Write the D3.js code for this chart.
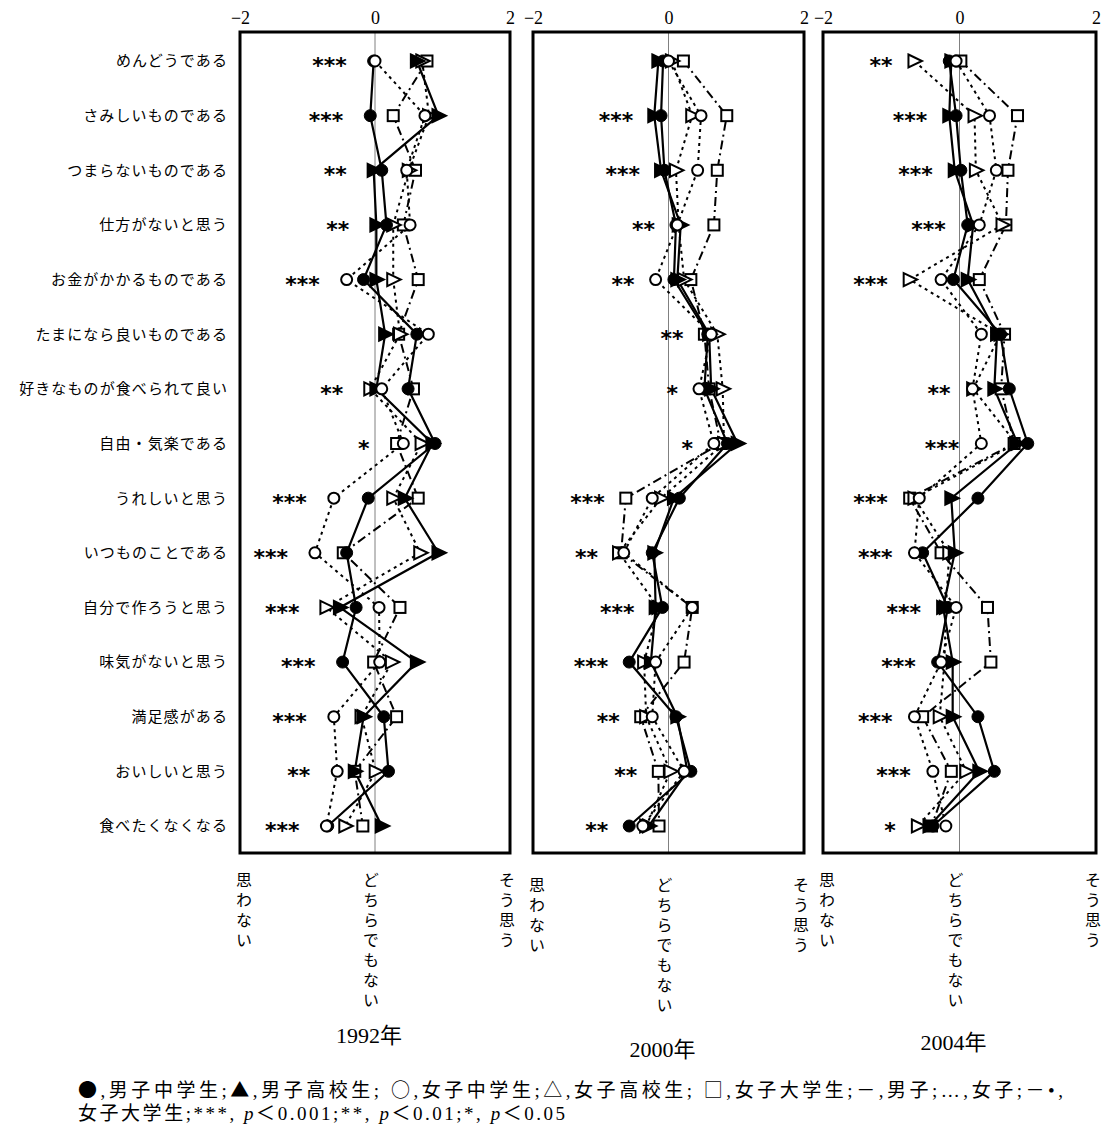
<!DOCTYPE html>
<html>
<head>
<meta charset="utf-8">
<script src="https://cdn.jsdelivr.net/npm/d3@7"></script>
<style>
  body { margin: 0; background: #fff; }
</style>
</head>
<body>
<div id="chart"></div>
<script>
// question items (rows, top to bottom)
const items = ["めんどうである", "さみしいものである", "つまらないものである", "仕方がないと思う",
  "お金がかかるものである", "たまになら良いものである", "好きなものが食べられて良い", "自由・気楽である",
  "うれしいと思う", "いつものことである", "自分で作ろうと思う", "味気がないと思う",
  "満足感がある", "おいしいと思う", "食べたくなくなる"];
const years = ["1992年", "2000年", "2004年"];
const tickValues = [-2, 0, 2];
const scaleWords = ["思わない", "どちらでもない", "そう思う"];

// 1992
const boysJH1992   = [-0.02, -0.07, 0.10, 0.17, -0.17, 0.62, 0.49, 0.89, -0.10, -0.42, -0.28, -0.48, 0.13, 0.20, -0.70];
const boysHS1992   = [0.62, 0.94, -0.02, 0.02, 0.02, 0.15, 0.02, 0.85, 0.44, 0.94, -0.52, 0.62, -0.17, -0.30, 0.10];
const girlsJH1992  = [0.00, 0.74, 0.47, 0.52, -0.42, 0.79, 0.10, 0.42, -0.61, -0.89, 0.06, 0.07, -0.61, -0.56, -0.72];
const girlsHS1992  = [0.70, 0.80, 0.50, 0.27, 0.27, 0.37, -0.07, 0.69, 0.27, 0.67, -0.72, 0.25, -0.20, 0.01, -0.44];
const girlsUni1992 = [0.77, 0.27, 0.60, 0.42, 0.64, 0.35, 0.57, 0.32, 0.64, -0.47, 0.37, -0.02, 0.32, -0.30, -0.18];
const stars1992 = ["***", "***", "**", "**", "***", "", "**", "*", "***", "***", "***", "***", "***", "**", "***"];

// 2000
const boysJH2000   = [-0.08, -0.11, -0.06, 0.11, 0.08, 0.58, 0.53, 0.87, 0.16, -0.24, -0.09, -0.58, 0.11, 0.33, -0.58];
const boysHS2000   = [-0.15, -0.21, -0.11, 0.18, 0.13, 0.60, 0.63, 1.02, 0.08, -0.21, -0.19, -0.26, 0.13, 0.28, -0.29];
const girlsJH2000  = [0.00, 0.48, 0.43, 0.13, -0.19, 0.63, 0.45, 0.67, -0.24, -0.66, 0.35, -0.19, -0.24, 0.23, -0.38];
const girlsHS2000  = [0.05, 0.35, 0.11, 0.15, 0.23, 0.72, 0.80, 0.82, -0.11, -0.73, -0.15, -0.36, -0.33, 0.03, -0.33];
const girlsUni2000 = [0.22, 0.86, 0.72, 0.67, 0.33, 0.53, 0.60, 0.77, -0.63, -0.70, 0.35, 0.23, -0.41, -0.15, -0.14];
const stars2000 = ["", "***", "***", "**", "**", "**", "*", "*", "***", "**", "***", "***", "**", "**", "**"];

// 2004
const boysJH2004   = [-0.15, -0.05, 0.02, 0.12, -0.09, 0.60, 0.73, 1.00, 0.27, -0.54, -0.17, -0.32, 0.27, 0.51, -0.39];
const boysHS2004   = [-0.12, -0.15, -0.07, 0.20, 0.12, 0.55, 0.51, 0.85, -0.12, -0.07, -0.24, -0.10, -0.10, 0.29, -0.44];
const girlsJH2004  = [-0.05, 0.44, 0.54, 0.29, -0.27, 0.32, 0.19, 0.32, -0.59, -0.66, -0.05, -0.27, -0.66, -0.39, -0.20];
const girlsHS2004  = [-0.66, 0.22, 0.24, 0.63, -0.73, 0.60, 0.20, 0.83, -0.66, -0.15, -0.20, -0.22, -0.29, 0.10, -0.61];
const girlsUni2004 = [0.02, 0.85, 0.71, 0.68, 0.29, 0.66, 0.61, 0.80, -0.73, -0.27, 0.41, 0.46, -0.54, -0.12, -0.41];
const stars2004 = ["**", "***", "***", "***", "***", "", "**", "***", "***", "***", "***", "***", "***", "***", "*"];

const width = 1110, height = 1128;
const boxTop = 32, boxBottom = 853;

const svg = d3.select("#chart")
  .append("svg")
    .attr("width", width)
    .attr("height", height);

const y = d3.scalePoint()
  .domain(items)
  .range([61, 826]);

// row labels on the left
svg.append("g")
  .selectAll("text")
  .data(items)
  .join("text")
    .attr("x", 228)
    .attr("y", d => y(d))
    .attr("dy", "0.36em")
    .attr("text-anchor", "end")
    .attr("fill", "black")
    .style("font-family", "'Noto Sans CJK JP', sans-serif")
    .style("font-size", "15px")
    .style("letter-spacing", "1.1px")
    .text(d => d);

// the five groups: marker shape and line style
const groups = [
  { name: "男子中学生", shape: "circle",   filled: true,  dash: null },
  { name: "男子高校生", shape: "triangle", filled: true,  dash: null },
  { name: "女子中学生", shape: "circle",   filled: false, dash: "3,4" },
  { name: "女子高校生", shape: "triangle", filled: false, dash: "3,4" },
  { name: "女子大学生", shape: "square",   filled: false, dash: "9,4,2,4" }
];
const markerOrder = [4, 3, 1, 0, 2]; // which marks sit on top

const panels = [
  { year: years[0], range: [240, 510], series: [boysJH1992, boysHS1992, girlsJH1992, girlsHS1992, girlsUni1992], stars: stars1992, yearY: 1043, gap: 27 },
  { year: years[1], range: [533, 804], series: [boysJH2000, boysHS2000, girlsJH2000, girlsHS2000, girlsUni2000], stars: stars2000, yearY: 1057, gap: 21 },
  { year: years[2], range: [823, 1096], series: [boysJH2004, boysHS2004, girlsJH2004, girlsHS2004, girlsUni2004], stars: stars2004, yearY: 1050, gap: 22 }
];

function drawMarker(sel, shape, filled) {
  const fill = filled ? "black" : "white";
  if (shape === "circle") {
    sel.append("circle").attr("r", filled ? 6 : 5.5)
      .attr("fill", fill).attr("stroke", "black").attr("stroke-width", filled ? 1 : 2);
  } else if (shape === "triangle") {
    sel.append("path").attr("d", "M-6,-6.5L7.5,0L-6,6.5Z")
      .attr("fill", fill).attr("stroke", "black").attr("stroke-width", 2)
      .attr("stroke-linejoin", "miter");
  } else {
    sel.append("rect").attr("x", -5.5).attr("y", -5.5).attr("width", 11).attr("height", 11)
      .attr("fill", fill).attr("stroke", "black").attr("stroke-width", 2);
  }
}

panels.forEach(p => {
  const x = d3.scaleLinear().domain([-2, 2]).range(p.range);
  const g = svg.append("g");

  // top axis numbers
  const axis = g.append("g")
    .attr("transform", `translate(0,${boxTop - 8})`)
    .call(d3.axisTop(x).tickValues(tickValues).tickSize(0).tickPadding(0).tickFormat(d3.format("d")));
  axis.select(".domain").remove();
  axis.selectAll("text")
    .style("font-family", "'Liberation Serif', serif")
    .style("font-size", "18px")
    .attr("fill", "black");

  // zero line
  g.append("line")
    .attr("x1", x(0)).attr("x2", x(0))
    .attr("y1", boxTop).attr("y2", boxBottom)
    .attr("stroke", "#808080").attr("stroke-width", 1);

  // lines
  const line = d3.line()
    .x(d => x(d.v))
    .y(d => y(d.item));
  groups.forEach((grp, i) => {
    const vals = p.series[i].map((v, k) => ({ item: items[k], v: v }));
    g.append("path")
      .attr("d", line(vals))
      .attr("fill", "none")
      .attr("stroke", "black")
      .attr("stroke-width", grp.filled ? 2.2 : 2)
      .attr("stroke-dasharray", grp.dash);
  });

  // markers
  markerOrder.forEach(i => {
    const grp = groups[i];
    g.append("g")
      .selectAll("g")
      .data(p.series[i].map((v, k) => ({ item: items[k], v: v })))
      .join("g")
        .attr("transform", d => `translate(${x(d.v)},${y(d.item)})`)
        .each(function() { drawMarker(d3.select(this), grp.shape, grp.filled); });
  });

  // significance stars, left of the leftmost mark of each row
  g.append("g")
    .selectAll("text")
    .data(items)
    .join("text")
      .attr("x", (d, k) => x(d3.min(p.series, s => s[k])) - p.gap)
      .attr("y", d => y(d))
      .attr("dy", "0.55em")
      .attr("text-anchor", "end")
      .attr("fill", "black")
      .style("font-family", "'DejaVu Sans', sans-serif")
      .style("font-weight", "bold")
      .style("font-size", "22px")
      .text((d, k) => p.stars[k]);

  // frame
  g.append("rect")
    .attr("x", p.range[0]).attr("y", boxTop)
    .attr("width", p.range[1] - p.range[0]).attr("height", boxBottom - boxTop)
    .attr("fill", "none").attr("stroke", "black").attr("stroke-width", 3);

  // vertical scale words under the frame
  const wordX = [x(-2) + 4, x(0) - 4, x(2) - 3];
  g.append("g")
    .selectAll("text")
    .data(scaleWords)
    .join("text")
      .attr("x", (d, j) => wordX[j])
      .attr("y", p.year === years[1] ? 877 : 872)
      .attr("fill", "black")
      .style("writing-mode", "vertical-rl")
      .style("font-family", "'Noto Sans CJK JP', sans-serif")
      .style("font-size", "16px")
      .style("letter-spacing", "4px")
      .text(d => d);

  // year label
  g.append("text")
    .attr("x", (p.range[0] + p.range[1]) / 2 - 6)
    .attr("y", p.yearY)
    .attr("text-anchor", "middle")
    .attr("fill", "black")
    .style("font-family", "'Liberation Serif', 'Noto Sans CJK JP', serif")
    .style("font-size", "22px")
    .text(p.year);
});

// legend note at the bottom
const noteParts1 = [
  ["●", true], [",男子中学生;", false], ["▲", true], [",男子高校生; ", false],
  ["○", true], [",女子中学生;", false], ["△", true], [",女子高校生; ", false],
  ["□", true], [",女子大学生;－,男子;…,女子;－•,", false]
];
const note = svg.append("g")
  .attr("fill", "black")
  .style("font-family", "'Liberation Serif', 'Noto Sans CJK JP', serif")
  .style("font-size", "19px");
note.append("text")
  .attr("x", 78).attr("y", 1097)
  .attr("textLength", 985).attr("lengthAdjust", "spacing")
  .selectAll("tspan")
  .data(noteParts1)
  .join("tspan")
    .style("font-family", d => d[1] ? "'Noto Sans CJK JP', sans-serif" : null)
    .text(d => d[0]);
const line2 = note.append("text")
  .attr("x", 78).attr("y", 1120)
  .attr("textLength", 487).attr("lengthAdjust", "spacing");
line2.append("tspan").text("女子大学生;***, ");
line2.append("tspan").style("font-style", "italic").text("p");
line2.append("tspan").text("＜0.001;**, ");
line2.append("tspan").style("font-style", "italic").text("p");
line2.append("tspan").text("＜0.01;*, ");
line2.append("tspan").style("font-style", "italic").text("p");
line2.append("tspan").text("＜0.05");
</script>
</body>
</html>
